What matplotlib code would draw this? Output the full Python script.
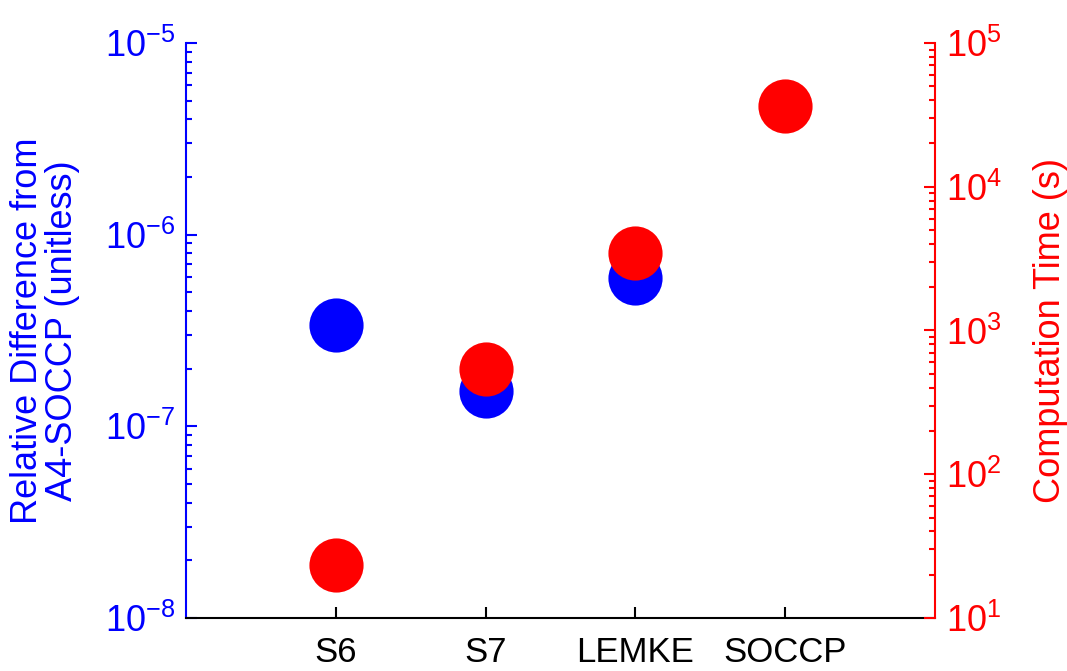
import matplotlib
matplotlib.use("Agg")
import matplotlib.pyplot as plt
import numpy as np
from matplotlib.ticker import LogLocator

plt.rcParams['font.family'] = ['Liberation Sans', 'DejaVu Sans']
plt.rcParams['mathtext.fontset'] = 'custom'
plt.rcParams['mathtext.rm'] = 'Liberation Sans'

# methods compared and their results
methods = ['S6', 'S7', 'LEMKE', 'SOCCP']
rel_diff = [3.38e-7, 1.53e-7, 5.94e-7]          # vs A4-SOCCP, SOCCP itself omitted
comp_time = [23.4, 540.0, 3460.0, 36500.0]       # seconds

blue = (0, 0, 1)
red = (1, 0, 0)
fs = 25

fig = plt.figure(figsize=(10.67, 6.71), dpi=100)
ax1 = fig.add_axes([0.1743, 0.079, 0.702, 0.857])
ax2 = ax1.twinx()

x = np.arange(1, len(methods) + 1)
ax1.plot(x[:len(rel_diff)], rel_diff, 'o', color=blue, markersize=39, markeredgewidth=0)
ax2.plot(x, comp_time, 'o', color=red, markersize=39, markeredgewidth=0)

ax1.set_xlim(0, 5)
ax1.set_yscale('log')
ax2.set_yscale('log')
ax1.set_ylim(1e-8, 1e-5)
ax2.set_ylim(1e1, 1e5)

ax1.set_xticks(x)
ax1.set_xticklabels(methods, fontsize=fs)

def decade_labels(ax, exps, color):
    ax.set_yticks([10.0 ** e for e in exps])
    ax.set_yticklabels([r'$\mathregular{10^{%d}}$' % e for e in exps], fontsize=fs + 1, color=color)
    ax.yaxis.set_minor_locator(LogLocator(base=10, subs=np.arange(2, 10), numticks=20))

decade_labels(ax1, [-8, -7, -6, -5], blue)
decade_labels(ax2, [1, 2, 3, 4, 5], red)

for ax in (ax1, ax2):
    ax.spines['top'].set_visible(False)
    ax.tick_params(which='both', direction='in')
    ax.tick_params(which='major', length=8, width=1.5)
    ax.tick_params(which='minor', length=4, width=1.5)

ax1.spines['left'].set_color(blue)
ax1.spines['left'].set_linewidth(1.5)
ax1.spines['bottom'].set_linewidth(1.5)
ax1.spines['right'].set_visible(False)
ax2.spines['left'].set_visible(False)
ax2.spines['bottom'].set_visible(False)
ax2.spines['right'].set_color(red)
ax2.spines['right'].set_linewidth(1.5)
ax1.tick_params(axis='y', which='both', colors=blue)
ax2.tick_params(axis='y', which='both', colors=red)
ax1.tick_params(axis='x', length=8, width=1.5, pad=13)
ax1.tick_params(axis='y', pad=8)
ax2.tick_params(axis='y', pad=8)

ax1.set_ylabel('Relative Difference from\nA4-SOCCP (unitless)', fontsize=26, color=blue,
               linespacing=1.0, labelpad=18)
ax2.set_ylabel('Computation Time (s)', fontsize=26, color=red, labelpad=22)

fig.savefig('out.png', dpi=100)
